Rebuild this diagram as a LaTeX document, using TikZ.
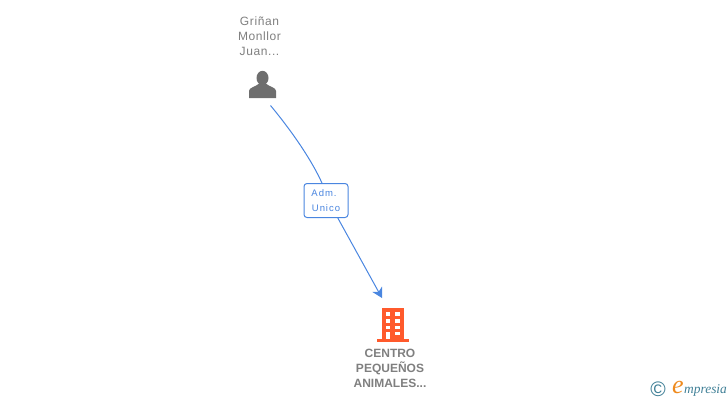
\documentclass[tikz,border=0pt]{standalone}
\usepackage{fontspec}
\setmainfont{Liberation Sans}
\newfontfamily\spacedfont[LetterSpace=5]{Liberation Sans}
\newfontfamily\rolefont[LetterSpace=10]{Liberation Sans}
\newfontfamily\logofont{Liberation Serif}
\usetikzlibrary{arrows.meta}
\definecolor{linkblue}{HTML}{4A86E0}
\definecolor{persongray}{HTML}{6E6E6E}
\definecolor{textgray}{HTML}{7F7F7F}
\definecolor{buildorange}{HTML}{FF5A2C}
\definecolor{logoteal}{HTML}{3F7F96}
\definecolor{logoorange}{HTML}{EE8A1E}
\tikzset{
  link/.style={draw=linkblue, line width=1pt},
  namebox/.style={align=center, text=textgray, inner sep=0pt, font=\spacedfont\fontsize{12}{15}\selectfont},
  firmbox/.style={align=center, text=textgray, inner sep=0pt, font=\bfseries\fontsize{12}{15}\selectfont},
  rolebox/.style={draw=linkblue, fill=white, rounded corners=3pt, line width=1pt, minimum width=44pt, minimum height=34pt,
    align=center, inner sep=0pt, text=linkblue, font=\rolefont\fontsize{9.5}{15}\selectfont},
  iconbox/.style={minimum width=32pt, minimum height=32pt, inner sep=0pt}
}
\begin{document}
\begin{tikzpicture}[x=1pt,y=-1pt]
\useasboundingbox (0,0) rectangle (728,400);

% --- Person ---
\node[namebox] (personname) at (259.5,36) {Griñan\\Monllor\\Juan...};
\node[iconbox] (person) at (262,84) {};
\fill[persongray] (262.5,78) ellipse (6 and 7.2);
\fill[persongray] (249,98) -- (249,91) .. controls (249,87.5) and (255,87) .. (258.5,84)
  -- (266.5,84) .. controls (270,87) and (276,87.5) .. (276,91) -- (276,98) -- cycle;

% --- Building ---
\node[iconbox] (firm) at (393,325) {};
\fill[buildorange] (381.7,308) rectangle (404.3,340);
\fill[buildorange] (377.3,339) rectangle (409,342);
\foreach \y in {312.3,319.3,325.7,331.7} {
  \fill[white] (385.7,\y) rectangle (390.3,\y+3.7);
  \fill[white] (395.3,\y) rectangle (400.3,\y+3.7);
}
\fill[white] (385.7,335) rectangle (390.3,339);
\node[firmbox] (firmname) at (390,368) {CENTRO\\PEQUEÑOS\\ANIMALES...};

% --- Link with its role ---
\node[rolebox] (role) at (326,200.5) {\raisebox{-1pt}{Adm.\hspace{4pt}}\\\raisebox{-1pt}{Unico}};
\coordinate (linkstart) at (270.5,105.5);
\coordinate (linkend) at (382,298);
\draw[link] (linkstart) .. controls (295,135) and (313,163) .. (role.103);
\draw[link, -{Stealth[length=10pt,width=11pt,inset=3pt]}] (role.-56) -- (linkend);

% --- Logo ---
\node[text=logoteal, inner sep=0pt, font=\fontsize{21}{21}\selectfont] (copyr) at (658,389) {©};
\node[text=logoorange, inner sep=0pt, font=\logofont\itshape\fontsize{26}{26}\selectfont] (logoe) at (678,387) {e};
\node[text=logoteal, inner sep=0pt, anchor=west, font=\logofont\itshape\fontsize{13.4}{14}\selectfont] (logotext) at (684,390) {mpresia};
\end{tikzpicture}
\end{document}
